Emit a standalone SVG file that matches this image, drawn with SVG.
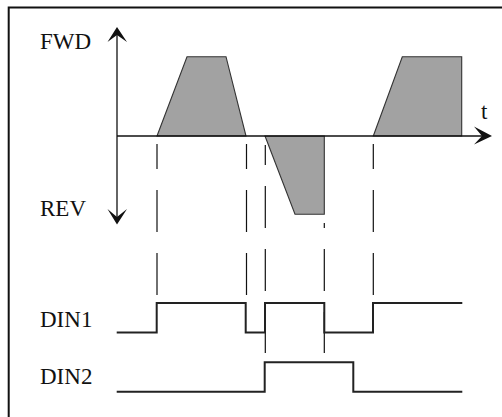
<svg xmlns="http://www.w3.org/2000/svg" width="502" height="417" viewBox="0 0 502 417">
<style>
.lbl{font-family:"Liberation Serif","Times New Roman",serif;font-size:23px;fill:#111}
.axis{stroke:#111;stroke-width:1.3;fill:none}
.head{fill:#111;stroke:none}
.shape{fill:#a2a2a2;stroke:#333;stroke-width:1.1;stroke-linejoin:miter}
.dash{stroke:#111;stroke-width:1.2;fill:none;stroke-dasharray:42 21}
.sig{stroke:#222;stroke-width:2;fill:none;stroke-linejoin:miter}
.frame{stroke:#111;stroke-width:2;fill:none}
</style>
<rect width="502" height="417" fill="#fff"/>
<path class="frame" d="M8.7,425 V7.5 H510"/>

<g id="labels">
<text class="lbl" x="40" y="49">FWD</text>
<text class="lbl" x="40" y="216">REV</text>
<text class="lbl" x="481" y="119">t</text>
<text class="lbl" x="40" y="327">DIN1</text>
<text class="lbl" x="40" y="384">DIN2</text>
</g>

<g id="speed">
<polygon class="shape" points="157,136 187,56.7 226,56.7 246,136"/>
<polygon class="shape" points="265,136 324.3,136 324.3,214.3 295,214.3"/>
<polygon class="shape" points="373.3,136 402.3,56.7 461.7,56.7 461.7,136"/>
</g>

<g id="axes">
<line class="axis" x1="117" y1="34" x2="117" y2="218"/>
<line class="axis" x1="117" y1="136" x2="486" y2="136"/>
<polygon class="head" points="117,27 127,42 117,35 107.5,42"/>
<polygon class="head" points="117,224.5 127,209 117,217 107.5,209"/>
<polygon class="head" points="492,136 474,126.5 482,136 474,144.5"/>
</g>

<g id="connectors">
<line class="dash" x1="157" y1="144" x2="157" y2="295" stroke-dashoffset="17"/>
<line class="dash" x1="246.5" y1="144" x2="246.5" y2="295" stroke-dashoffset="17"/>
<line class="dash" x1="265.3" y1="145" x2="265.3" y2="353" stroke-dashoffset="22"/>
<line class="dash" x1="324.3" y1="223" x2="324.3" y2="353" stroke-dashoffset="37"/>
<line class="dash" x1="373.3" y1="144" x2="373.3" y2="295" stroke-dashoffset="17"/>
</g>

<g id="din1">
<path class="sig" d="M116.7,332.5 H156.7 V303 H245.7 V332.5 H265 V303 H324.3 V332.5 H373 V303 H462.3"/>
</g>

<g id="din2">
<path class="sig" d="M116.7,391.7 H264.7 V362.3 H353.3 V391.7 H462.3"/>
</g>
</svg>
